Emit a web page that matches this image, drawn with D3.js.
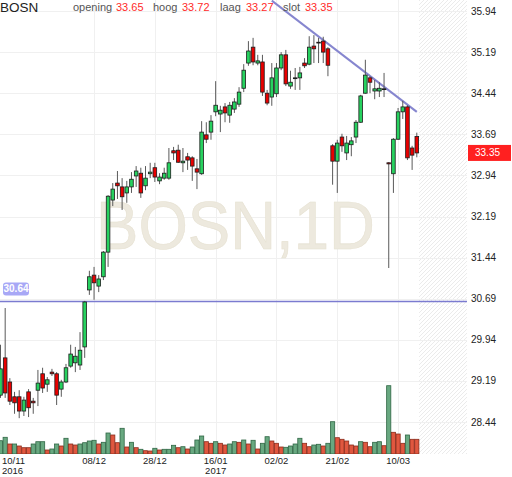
<!DOCTYPE html>
<html><head><meta charset="utf-8">
<script src="https://cdn.jsdelivr.net/npm/d3@7"></script>
<style>body{margin:0;background:#fff}svg{display:block;font-family:"Liberation Sans",Arial,sans-serif}</style>
</head><body>
<script>
const symbol = "BOSN";
const dates = [
"2016-11-10","2016-11-11","2016-11-14","2016-11-15","2016-11-16","2016-11-17","2016-11-18","2016-11-21","2016-11-22","2016-11-23",
"2016-11-24","2016-11-25","2016-11-28","2016-11-29","2016-11-30","2016-12-01","2016-12-02","2016-12-05","2016-12-06","2016-12-07",
"2016-12-08","2016-12-09","2016-12-12","2016-12-13","2016-12-14","2016-12-15","2016-12-16","2016-12-19","2016-12-20","2016-12-21",
"2016-12-22","2016-12-23","2016-12-27","2016-12-28","2016-12-29","2016-12-30","2017-01-02","2017-01-03","2017-01-04","2017-01-05",
"2017-01-06","2017-01-09","2017-01-10","2017-01-11","2017-01-12","2017-01-13","2017-01-16","2017-01-17","2017-01-18","2017-01-19",
"2017-01-20","2017-01-23","2017-01-24","2017-01-25","2017-01-26","2017-01-27","2017-01-30","2017-01-31","2017-02-01","2017-02-02",
"2017-02-03","2017-02-06","2017-02-07","2017-02-08","2017-02-09","2017-02-10","2017-02-13","2017-02-14","2017-02-15","2017-02-16",
"2017-02-17","2017-02-20","2017-02-21","2017-02-22","2017-02-23","2017-02-24","2017-02-27","2017-02-28","2017-03-01","2017-03-02",
"2017-03-03","2017-03-06","2017-03-07","2017-03-08","2017-03-09","2017-03-10","2017-03-13","2017-03-14","2017-03-15","2017-03-16"];
const open = [
28.93,29.61,29.17,28.90,28.90,28.64,28.99,28.82,29.02,29.32,
29.13,29.35,29.32,29.04,29.17,29.46,29.52,29.48,29.81,30.85,
31.12,30.92,31.09,31.54,32.49,32.80,32.73,32.62,32.73,32.93,
32.98,32.75,32.97,33.08,32.84,32.89,32.89,33.39,33.40,33.17,
33.28,33.26,33.06,32.97,33.68,33.73,34.10,34.06,34.19,34.04,
34.15,34.24,34.53,34.99,35.28,34.99,35.01,34.44,34.37,34.43,
34.90,35.14,34.57,34.72,34.72,34.99,34.97,35.30,35.37,35.39,
35.25,33.48,33.20,33.64,33.35,33.50,33.64,33.91,34.44,34.72,
34.48,34.48,34.52,33.17,32.97,33.60,34.10,34.19,33.44,33.65];
const high = [
29.85,30.52,29.24,28.99,29.02,28.90,29.04,28.88,29.39,29.43,
29.26,29.41,29.35,29.21,29.50,29.85,29.81,30.08,30.65,31.20,
31.27,31.12,31.56,32.58,32.80,33.02,32.89,32.84,33.00,33.11,
33.08,33.11,33.17,33.17,32.98,33.08,33.44,33.46,33.50,33.44,
33.35,33.29,33.24,33.93,33.91,34.04,34.66,34.21,34.26,34.28,
34.35,34.55,34.97,35.39,35.45,35.14,35.14,34.50,34.99,34.99,
35.19,35.23,34.85,34.90,34.92,35.08,35.48,35.50,35.45,35.47,
35.28,33.51,33.59,33.70,33.66,33.64,33.95,34.41,35.05,34.75,
34.68,34.64,34.81,33.18,33.62,34.17,34.30,34.22,33.48,33.72];
const low = [
28.88,28.88,28.75,28.59,28.51,28.55,28.53,28.59,28.73,28.97,
28.99,29.28,28.75,28.90,29.15,29.43,29.35,29.39,29.61,30.76,
30.67,30.81,31.03,31.27,32.38,32.51,32.31,32.44,32.62,32.73,
32.53,32.67,32.89,32.82,32.78,32.86,32.86,33.22,33.17,33.00,
33.04,32.84,32.69,32.95,33.53,33.59,34.02,33.73,33.91,33.90,
34.08,34.19,34.46,34.94,34.95,34.95,34.39,34.22,34.21,34.37,
34.86,34.57,34.52,34.50,34.50,34.90,34.95,34.99,34.99,34.99,
34.75,32.77,32.62,33.37,33.22,33.29,33.53,33.90,34.43,34.44,
34.33,34.37,34.37,31.25,32.62,33.59,33.97,33.22,33.04,33.27];
const close = [
29.41,28.97,28.82,28.79,28.64,28.84,28.70,28.79,29.15,29.06,
29.21,29.32,28.93,29.17,29.43,29.68,29.64,29.75,30.63,31.09,
30.98,31.05,31.54,32.56,32.69,32.75,32.55,32.73,32.87,33.02,
32.62,32.89,33.00,32.91,32.91,32.98,33.17,33.35,33.18,33.20,
33.22,33.11,33.00,33.73,33.60,33.93,34.22,34.13,34.08,34.22,
34.28,34.46,34.86,35.21,35.01,35.03,34.46,34.26,34.72,34.90,
35.14,34.61,34.64,34.72,34.81,34.94,35.28,35.25,35.36,35.19,
34.95,33.20,33.53,33.48,33.53,33.57,33.91,34.39,34.77,34.64,
34.52,34.53,34.52,33.15,33.60,34.10,34.19,33.26,33.31,33.35];
const volume = [
266,334,200,200,160,126,126,200,246,246,
80,100,200,160,314,200,180,200,226,260,
274,200,234,420,380,226,514,140,234,126,
94,66,60,114,80,94,94,174,126,146,
100,140,280,360,246,214,246,214,180,200,
246,234,280,200,274,100,214,346,260,214,
140,134,160,200,314,214,146,180,194,160,
214,646,326,294,260,180,160,246,234,146,
234,246,166,1366,434,400,214,380,294,294];
const volumeUp = [
1,1,0,1,0,0,0,1,1,1,
0,1,1,0,1,0,0,1,1,1,
1,0,1,1,0,0,1,0,1,0,
1,0,0,1,0,1,1,1,0,1,
0,1,1,1,0,0,1,0,0,1,
1,0,1,0,1,0,1,1,0,0,
0,1,1,1,1,0,0,1,1,0,
1,1,0,0,0,0,0,1,0,0,
1,1,0,1,0,0,0,1,0,0];
const priceTicks = [35.94,35.19,34.44,33.69,32.94,32.19,31.44,30.69,29.94,29.19,28.44];
const dateTicks = ["2016-11-10","2016-12-08","2016-12-28","2017-01-16","2017-02-02","2017-02-21","2017-03-10"];
const dateTickLabels = ["10/11","08/12","28/12","16/01","02/02","21/02","10/03"];
const yearTicks = ["2016-11-10","2017-01-16"];
const yearLabels = ["2016","2017"];
const hLevel = 30.64;
const trendDates = ["2017-02-01","2017-03-16"];
const trendPrices = [36.13,34.10];
const headerNames = ["opening","hoog","laag","slot"];

const W = 512, H = 477;
const plotRight = 467, plotBottom = 454, futureLeft = 419;
const svg = d3.select("body").append("svg").attr("width", W).attr("height", H);
svg.append("rect").attr("width", W).attr("height", H).attr("fill", "#fff");

const x = d3.scalePoint().domain(dates).range([0.5, 416.8]);
const step = x.step();
const y = d3.scaleLinear().domain([28.44, 35.94]).range([422, 11]);
const yv = d3.scaleLinear().domain([0, 1400]).range([plotBottom, plotBottom - 70]);
const idx = d => dates.indexOf(d);

const defs = svg.append("defs");
defs.append("clipPath").attr("id", "clip").append("rect")
  .attr("x", 0).attr("y", 0).attr("width", plotRight).attr("height", plotBottom);
const pat = defs.append("pattern").attr("id", "hatch").attr("patternUnits", "userSpaceOnUse")
  .attr("width", 4).attr("height", 4);
pat.append("path").attr("d", "M-1,1 l2,-2 M0,4 l4,-4 M3,5 l2,-2").attr("stroke", "#e6e6e6").attr("stroke-width", 0.8);

const g = svg.append("g").attr("clip-path", "url(#clip)");
g.append("rect").attr("x", futureLeft).attr("y", 0).attr("width", plotRight - futureLeft)
  .attr("height", plotBottom).attr("fill", "url(#hatch)");

// grid
g.selectAll(".hg").data(priceTicks).join("line")
  .attr("x1", 0).attr("x2", plotRight).attr("y1", d => Math.round(y(d)) + 0.5).attr("y2", d => Math.round(y(d)) + 0.5)
  .attr("stroke", "#f0f0f0");
g.selectAll(".vg").data(dateTicks.slice(1)).join("line")
  .attr("x1", d => Math.round(x(d)) + 0.5).attr("x2", d => Math.round(x(d)) + 0.5)
  .attr("y1", 0).attr("y2", plotBottom).attr("stroke", "#f0f0f0");

// watermark
g.append("text").attr("x", 235.5).attr("y", 249).attr("text-anchor", "middle")
  .attr("font-size", 69).attr("fill", "#ede9de").attr("stroke", "#e6e1d2").attr("stroke-width", 0.6)
  .attr("textLength", 279).attr("lengthAdjust", "spacingAndGlyphs")
  .text(symbol + ",1D");

// volume
const vbw = step - 0.5;
g.selectAll(".vol").data(dates).join("rect")
  .attr("x", d => x(d) - vbw / 2).attr("width", vbw)
  .attr("y", (d, i) => yv(volume[i])).attr("height", (d, i) => plotBottom - yv(volume[i]))
  .attr("fill", (d, i) => volumeUp[i] ? "#68a880" : "#e0573f")
  .attr("stroke", (d, i) => volumeUp[i] ? "#2f6644" : "#8a2b1b").attr("stroke-width", 0.8);

// horizontal level line
g.append("line").attr("x1", 0).attr("x2", plotRight).attr("y1", y(hLevel)).attr("y2", y(hLevel))
  .attr("stroke", "#7b7bd0").attr("stroke-width", 1.5);

// trendline
g.append("line")
  .attr("x1", x(trendDates[0])).attr("y1", y(trendPrices[0]))
  .attr("x2", x(trendDates[1])).attr("y2", y(trendPrices[1]))
  .attr("stroke", "#8686cf").attr("stroke-width", 2);

// candles
const bw = 3.6;
const c = g.selectAll(".c").data(dates).join("g");
c.append("line").attr("x1", d => x(d)).attr("x2", d => x(d))
  .attr("y1", (d, i) => y(high[i])).attr("y2", (d, i) => y(low[i]))
  .attr("stroke", "#5a5a5a").attr("stroke-width", 1);
c.append("rect").attr("x", d => x(d) - bw / 2).attr("width", bw)
  .attr("y", (d, i) => y(Math.max(open[i], close[i])))
  .attr("height", (d, i) => Math.max(0.8, Math.abs(y(open[i]) - y(close[i]))))
  .attr("fill", (d, i) => close[i] > open[i] ? "#27d15f" : (close[i] < open[i] ? "#e80000" : "#222"))
  .attr("stroke", "#1c1c1c").attr("stroke-width", 0.8);

// right axis labels
svg.append("g").selectAll("text").data(priceTicks).join("text")
  .attr("x", 471).attr("y", d => y(d) + 3.5).attr("font-size", 10).attr("fill", "#222")
  .text(d => d.toFixed(2));

// bottom labels
svg.append("g").selectAll("text").data(dateTicks).join("text")
  .attr("x", (d, i) => i === 0 ? 2 : x(d))
  .attr("text-anchor", (d, i) => i === 0 ? "start" : "middle")
  .attr("y", 463.5).attr("font-size", 9.5).attr("fill", "#222")
  .text((d, i) => dateTickLabels[i]);
svg.append("g").selectAll("text").data(yearTicks).join("text")
  .attr("x", d => idx(d) === 0 ? 2 : x(d))
  .attr("text-anchor", d => idx(d) === 0 ? "start" : "middle")
  .attr("y", 474).attr("font-size", 9.5).attr("fill", "#222")
  .text((d, i) => yearLabels[i]);

// level label
const lvl = svg.append("g");
lvl.append("rect").attr("x", 3).attr("y", y(hLevel) - 19).attr("width", 26).attr("height", 13).attr("rx", 3)
  .attr("fill", "#a8a8f6");
lvl.append("text").attr("x", 16).attr("y", y(hLevel) - 9).attr("text-anchor", "middle")
  .attr("font-size", 10).attr("font-weight", "bold").attr("fill", "#fff").text(hLevel.toFixed(2));

// last price label
const last = close[close.length - 1];
svg.append("rect").attr("x", 468).attr("y", y(last) - 8).attr("width", 43).attr("height", 16)
  .attr("fill", "#ff2020");
svg.append("text").attr("x", 475).attr("y", y(last) + 3.5).attr("font-size", 10).attr("fill", "#fff")
  .text(last.toFixed(2));

// header
svg.append("text").attr("x", 0).attr("y", 11.5).attr("font-size", 13.5).attr("fill", "#222").text(symbol);
const L = dates.length - 1;
const headerVals = [open[L], high[L], low[L], close[L]];
const nameX = [73, 153, 220, 283], valX = [116, 182, 246, 305];
headerNames.forEach((n, i) => {
  svg.append("text").attr("x", nameX[i]).attr("y", 10.5).attr("font-size", 11).attr("fill", "#555").text(n);
  svg.append("text").attr("x", valX[i]).attr("y", 10.5).attr("font-size", 11).attr("fill", "#ff2a2a").text(headerVals[i].toFixed(2));
});
</script>
</body></html>
